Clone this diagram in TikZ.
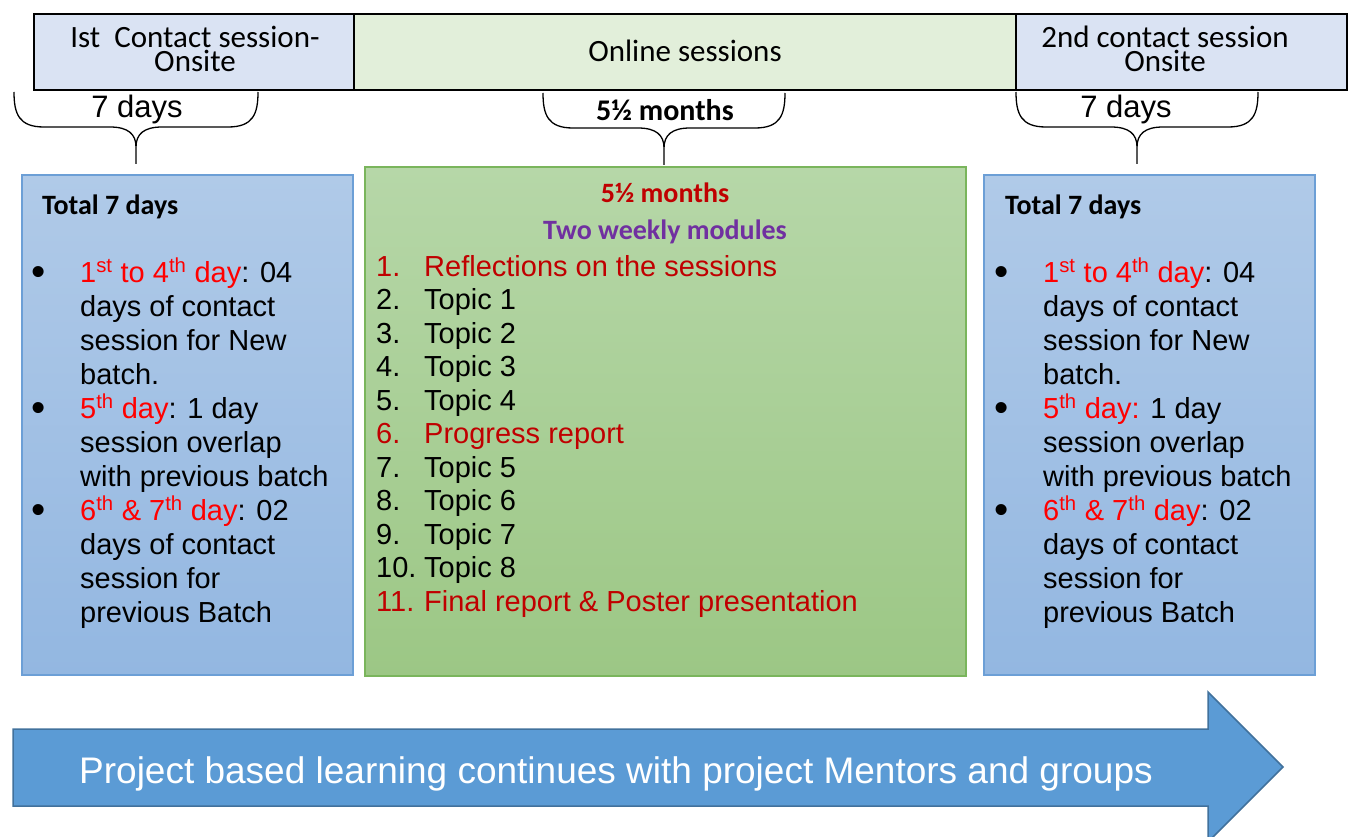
\documentclass[tikz,border=0pt]{standalone}
\usepackage{fontspec}
\setmainfont{Liberation Sans}
\newfontfamily\calibri{Carlito}
\usepackage{xcolor}
\usetikzlibrary{positioning,calc}
\definecolor{hdrblue}{HTML}{DAE3F3}
\definecolor{hdrgreen}{HTML}{E2EFDA}
\definecolor{bluetop}{HTML}{B0CAE8}
\definecolor{bluebot}{HTML}{93B7E1}
\definecolor{blueedge}{HTML}{6C9FD6}
\definecolor{greentop}{HTML}{B6D7A8}
\definecolor{greenbot}{HTML}{9CC785}
\definecolor{greenedge}{HTML}{7AB55C}
\definecolor{darkred}{HTML}{C00000}
\definecolor{modpurple}{HTML}{7030A0}
\definecolor{arrowblue}{HTML}{5B9BD5}
\definecolor{arrowedge}{HTML}{41719C}
\newcommand{\bigbullet}{\raisebox{-3pt}{\scalebox{1.4}{\textbullet}}}

\tikzset{pics/timebrace/.style={code={
  \draw[line width=1.3pt] (-#1,0) .. controls (-#1,22) and (-#1+5,35) .. (-#1+30,35) -- (-26,35)
    .. controls (-8,35) and (0,42) .. (0,55) -- (0,72)
    (0,55) .. controls (0,42) and (8,35) .. (26,35) -- (#1-30,35)
    .. controls (#1-5,35) and (#1,22) .. (#1,0);
}}}

\begin{document}
\begin{tikzpicture}[x=1pt, y=-1pt,
  hdrcell/.style={rectangle, draw=black, line width=2.4pt, minimum height=76pt, inner sep=0pt},
  hdrtext/.style={font=\calibri\fontsize{31}{23.5}\selectfont, align=center, inner sep=0pt},
  bluebox/.style={rectangle, draw=blueedge, line width=1.2pt, top color=bluetop, bottom color=bluebot, minimum width=331pt, minimum height=500pt, inner sep=0pt},
  greenbox/.style={rectangle, draw=greenedge, line width=1.2pt, top color=greentop, bottom color=greenbot, minimum width=601pt, minimum height=509pt, inner sep=0pt},
  boxtitle/.style={font=\calibri\bfseries\fontsize{28}{34}\selectfont, anchor=base west, inner sep=0pt},
  bodytext/.style={font=\fontsize{29}{34}\selectfont, anchor=base west, inner sep=0pt},
  bracetext/.style={anchor=base, inner sep=0pt},
  bigarrow/.style={fill=arrowblue, draw=arrowedge, line width=1.5pt}
]
\useasboundingbox (0,0) rectangle (1348,837);

\node[hdrcell, fill=hdrblue, minimum width=320pt] (hdrA) at (194,52) {};
\node[hdrcell, fill=hdrgreen, minimum width=662pt] (hdrB) at (685,52) {};
\node[hdrcell, fill=hdrblue, minimum width=331pt] (hdrC) at (1181.5,52) {};
\node[hdrtext] (hdrAtext) at (195,49) {Ist\ \ Contact session-\\Onsite};
\node[hdrtext, anchor=base] (hdrBtext) at (685,62) {Online sessions};
\node[hdrtext] (hdrCtext) at (1165,49) {2nd contact session\\Onsite};

\pic (braceA) at (136,92) {timebrace=122};
\pic (braceB) at (664,93) {timebrace=121};
\pic (braceC) at (1137,92) {timebrace=121};
\node[bracetext, font=\fontsize{31}{34}\selectfont] (daysA) at (137,118) {7 days};
\node[bracetext, font=\calibri\bfseries\fontsize{30}{34}\selectfont] (monthsB) at (665,121) {5½ months};
\node[bracetext, font=\fontsize{31}{34}\selectfont] (daysC) at (1126,118) {7 days};

\node[bluebox] (boxL) at (187.5,425) {};
\node[greenbox] (boxM) at (665.5,421.5) {};
\node[bluebox] (boxR) at (1149.5,425) {};

\node[boxtitle] (titleL) at (42,214) {Total 7 days};
\node[bodytext] (listL) at (31,282) {\begin{tabular}[t]{@{}p{49pt}@{}l@{}}
\bigbullet & \textcolor{red}{1\textsuperscript{st} to 4\textsuperscript{th} day}: 04\\
 & days of contact\\
 & session for New\\
 & batch.\\
\bigbullet & \textcolor{red}{5\textsuperscript{th} day}: 1 day\\
 & session overlap\\
 & with previous batch\\
\bigbullet & \textcolor{red}{6\textsuperscript{th} \& 7\textsuperscript{th} day}: 02\\
 & days of contact\\
 & session for\\
 & previous Batch
\end{tabular}};

\node[bracetext, font=\calibri\bfseries\fontsize{28}{34}\selectfont, text=darkred] (spanM) at (665,203) {5½ months};
\node[bracetext, font=\calibri\bfseries\fontsize{28}{34}\selectfont, text=modpurple] (modulesM) at (665,239) {Two weekly modules};
\node[bodytext, font=\fontsize{29}{33.5}\selectfont] (topicsM) at (376,276) {\begin{tabular}[t]{@{}p{48pt}@{}l@{}}
\textcolor{darkred}{1.} & \textcolor{darkred}{Reflections on the sessions}\\
2. & Topic 1\\
3. & Topic 2\\
4. & Topic 3\\
5. & Topic 4\\
\textcolor{darkred}{6.} & \textcolor{darkred}{Progress report}\\
7. & Topic 5\\
8. & Topic 6\\
9. & Topic 7\\
10. & Topic 8\\
\textcolor{darkred}{11.} & \textcolor{darkred}{Final report \& Poster presentation}
\end{tabular}};

\node[boxtitle] (titleR) at (1005,214) {Total 7 days};
\node[bodytext] (listR) at (994,282) {\begin{tabular}[t]{@{}p{49pt}@{}l@{}}
\bigbullet & \textcolor{red}{1\textsuperscript{st} to 4\textsuperscript{th} day}: 04\\
 & days of contact\\
 & session for New\\
 & batch.\\
\bigbullet & \textcolor{red}{5\textsuperscript{th} day:} 1 day\\
 & session overlap\\
 & with previous batch\\
\bigbullet & \textcolor{red}{6\textsuperscript{th} \& 7\textsuperscript{th} day}: 02\\
 & days of contact\\
 & session for\\
 & previous Batch
\end{tabular}};

\draw[bigarrow] (13,729) -- (1208,729) -- (1208,692) -- (1283,767) -- (1208,842) -- (1208,806) -- (13,806) -- cycle;
\node[bracetext, font=\fontsize{37}{40}\selectfont, text=white] (pbl) at (616,783) {Project based learning continues with project Mentors and groups};
\end{tikzpicture}
\end{document}
